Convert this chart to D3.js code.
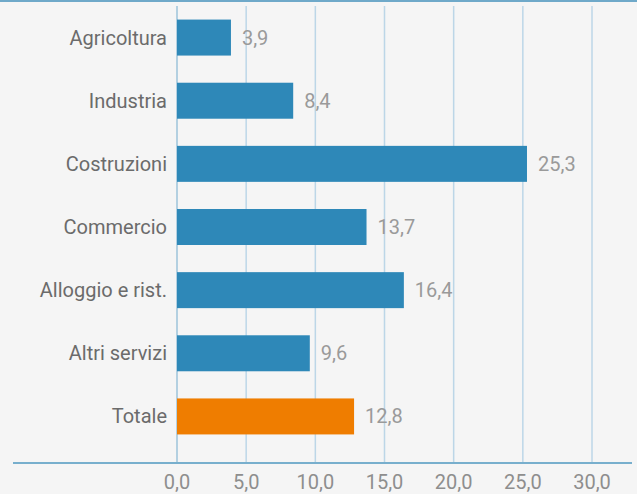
<!DOCTYPE html>
<html>
<head>
<meta charset="utf-8">
<script src="https://cdn.jsdelivr.net/npm/d3@7"></script>
<style>
  html, body { margin: 0; padding: 0; background: #f5f5f5; }
  svg { display: block; font-family: Roboto, "Liberation Sans", sans-serif; }
</style>
</head>
<body>
<div id="chart"></div>
<script>
// Sectors and values
const categories = ["Agricoltura", "Industria", "Costruzioni", "Commercio", "Alloggio e rist.", "Altri servizi", "Totale"];
const values = [3.9, 8.4, 25.3, 13.7, 16.4, 9.6, 12.8];
const tickValues = [0, 5, 10, 15, 20, 25, 30];

const width = 637, height = 494;
const fmt = v => d3.format(".1f")(v).replace(".", ",");

const svg = d3.select("#chart").append("svg")
    .attr("width", width)
    .attr("height", height);

svg.append("rect")
    .attr("width", width)
    .attr("height", height)
    .attr("fill", "#f5f5f5");

// top border line
svg.append("line")
    .attr("x1", 0).attr("x2", width)
    .attr("y1", 1).attr("y2", 1)
    .attr("stroke", "#6fa9c9")
    .attr("stroke-width", 2);

const x = d3.scaleLinear().domain([0, 30]).range([177, 592]);
const y = d3.scaleBand().domain(categories).range([6, 448]).paddingInner(0.43).paddingOuter(0.215);

// vertical gridlines
svg.append("g").selectAll("line")
    .data(tickValues)
    .join("line")
    .attr("x1", d => x(d)).attr("x2", d => x(d))
    .attr("y1", 6).attr("y2", 463)
    .attr("stroke", (d, i) => i === 0 ? "#9cc3da" : "#bcd6e7")
    .attr("stroke-width", 1.5);

// bars
svg.append("g").selectAll("rect")
    .data(values)
    .join("rect")
    .attr("x", x(0))
    .attr("y", (d, i) => y(categories[i]))
    .attr("width", d => x(d) - x(0))
    .attr("height", y.bandwidth())
    .attr("fill", (d, i) => categories[i] === "Totale" ? "#ef7d00" : "#2e88b8");

// value labels
svg.append("g").selectAll("text")
    .data(values)
    .join("text")
    .attr("x", d => x(d) + 11)
    .attr("y", (d, i) => y(categories[i]) + y.bandwidth() / 2)
    .attr("dy", "0.35em")
    .attr("font-size", 20)
    .attr("fill", "#9a9a9a")
    .text(fmt);

// category labels
svg.append("g").selectAll("text")
    .data(categories)
    .join("text")
    .attr("x", 167)
    .attr("y", d => y(d) + y.bandwidth() / 2)
    .attr("dy", "0.35em")
    .attr("text-anchor", "end")
    .attr("font-size", 20)
    .attr("fill", "#6b6b6b")
    .text(d => d);

// bottom axis line
svg.append("line")
    .attr("x1", 13).attr("x2", 632)
    .attr("y1", 463).attr("y2", 463)
    .attr("stroke", "#78afcd")
    .attr("stroke-width", 2);

// tick labels
svg.append("g").selectAll("text")
    .data(tickValues)
    .join("text")
    .attr("x", d => x(d))
    .attr("y", 482)
    .attr("dy", "0.35em")
    .attr("text-anchor", "middle")
    .attr("font-size", 20)
    .attr("fill", "#8e8e8e")
    .text(fmt);
</script>
</body>
</html>
